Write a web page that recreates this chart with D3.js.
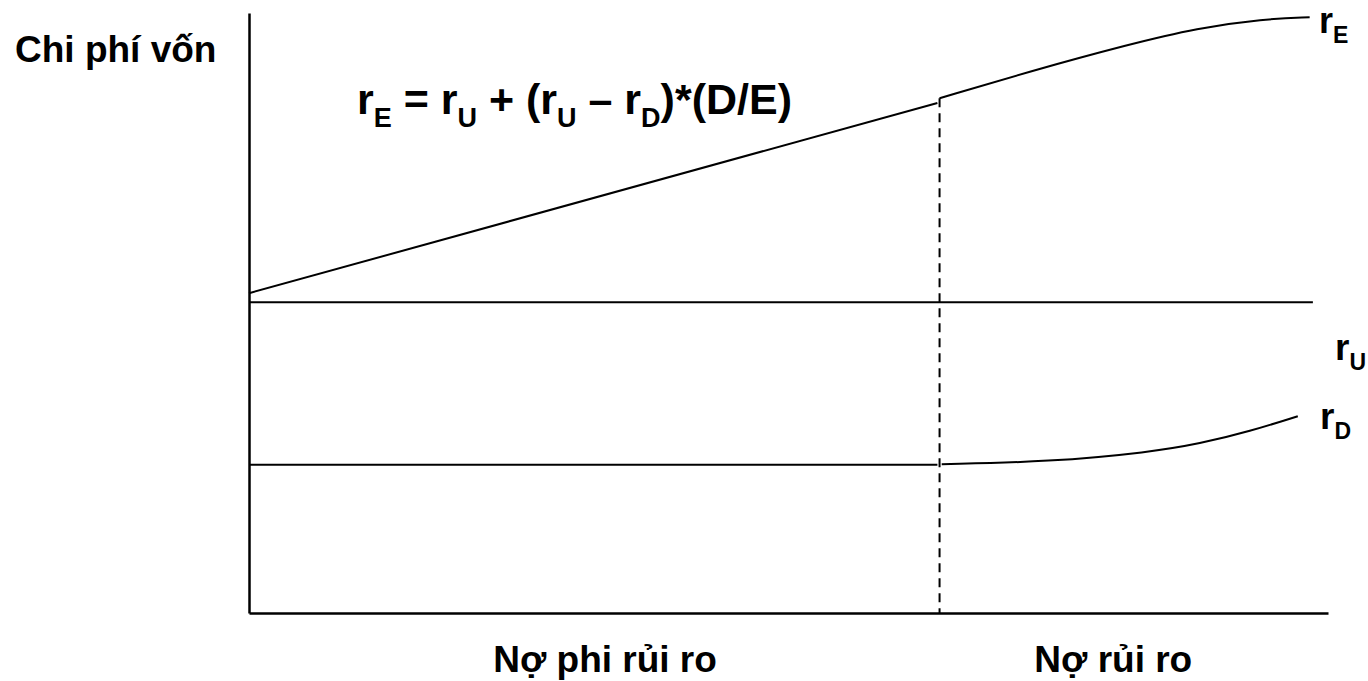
<!DOCTYPE html>
<html>
<head>
<meta charset="utf-8">
<script src="https://cdn.jsdelivr.net/npm/d3@7"></script>
<style>
  body { margin: 0; background: #fff; }
  svg text { font-family: "Liberation Sans", Arial, sans-serif; font-weight: bold; fill: #000; }
</style>
</head>
<body>
<div id="chart"></div>
<script>
// x = debt level (0..10), y = cost of capital (0..10)
const breakX = 6.40;

const rELine = [[0, 5.33], [6.38, 8.50]];
const rECurve = [[6.40, 8.58], [7.24, 9.03], [8.16, 9.48], [8.79, 9.75], [9.40, 9.90], [9.83, 9.93]];

const rULine = [[0, 5.18], [9.86, 5.18]];

const rDLine = [[0, 2.47], [6.38, 2.47]];
const rDCurve = [[6.42, 2.48], [7.42, 2.52], [8.35, 2.68], [8.81, 2.82], [9.28, 3.03], [9.72, 3.28]];

const xLabels = ["Nợ phi rủi ro", "Nợ rủi ro"];
const xLabelPos = [3.30, 8.01];
const yLabel = "Chi phí vốn";

// set the dimensions of the graph
var width = 1368, height = 681;
var axisLeftX = 249, axisBottomY = 613;

const svg = d3.select("#chart")
  .append("svg")
    .attr("width", width)
    .attr("height", height);

const x = d3.scaleLinear()
  .domain([0, 10])
  .range([axisLeftX, 1328]);

const y = d3.scaleLinear()
  .domain([0, 10])
  .range([axisBottomY, 13]);

// axes: plain lines, no ticks
svg.append("g")
  .attr("transform", `translate(${axisLeftX},0)`)
  .call(d3.axisLeft(y).ticks(0).tickSize(0))
  .call(g => g.select(".domain").attr("stroke", "#000").attr("stroke-width", 2.5));

svg.append("g")
  .attr("transform", `translate(0,${axisBottomY})`)
  .call(d3.axisBottom(x).ticks(0).tickSize(0))
  .call(g => g.select(".domain").attr("stroke", "#000").attr("stroke-width", 2.5));

// dashed separator between riskless and risky debt
svg.append("line")
  .attr("x1", x(breakX)).attr("x2", x(breakX))
  .attr("y1", y(rECurve[0][1])).attr("y2", y(0))
  .attr("stroke", "#000")
  .attr("stroke-width", 2)
  .attr("stroke-dasharray", "9,6");

const straight = d3.line().x(d => x(d[0])).y(d => y(d[1]));
const curved = d3.line().x(d => x(d[0])).y(d => y(d[1])).curve(d3.curveBasis);

[rELine, rULine, rDLine].forEach(function(d) {
  svg.append("path")
    .attr("d", straight(d))
    .attr("fill", "none")
    .attr("stroke", "#000")
    .attr("stroke-width", 2);
});

[rECurve, rDCurve].forEach(function(d) {
  svg.append("path")
    .attr("d", curved(d))
    .attr("fill", "none")
    .attr("stroke", "#000")
    .attr("stroke-width", 2);
});

// text with a subscript part
function subText(px, py, parts, size, subSize, shift) {
  const t = svg.append("text")
    .attr("x", px)
    .attr("y", py)
    .style("font-size", size + "px");
  parts.forEach(function(p) {
    if (p.sub) {
      t.append("tspan").attr("dy", shift).style("font-size", subSize + "px").text(p.sub);
    } else {
      t.append("tspan").attr("dy", p.after ? -shift : 0).text(p.t);
    }
  });
  return t;
}

// formula
subText(357, 114, [
  {t: "r"}, {sub: "E"},
  {t: " = r", after: true}, {sub: "U"},
  {t: " + (r", after: true}, {sub: "U"},
  {t: " – r", after: true}, {sub: "D"},
  {t: ")*(D/E)", after: true}
], 43, 27, 13);

// line labels
subText(1319, 33, [{t: "r"}, {sub: "E"}], 36, 23, 10);
subText(1335, 360, [{t: "r"}, {sub: "U"}], 37, 23, 10);
subText(1320, 429, [{t: "r"}, {sub: "D"}], 37, 23, 10);

// y label
svg.append("text")
  .attr("x", 15)
  .attr("y", 62)
  .style("font-size", "37px")
  .text(yLabel);

// x category labels
svg.selectAll(".xlab")
  .data(xLabels)
  .join("text")
    .attr("class", "xlab")
    .attr("x", (d, i) => x(xLabelPos[i]))
    .attr("y", 672)
    .attr("text-anchor", "middle")
    .style("font-size", "37px")
    .text(d => d);
</script>
</body>
</html>
